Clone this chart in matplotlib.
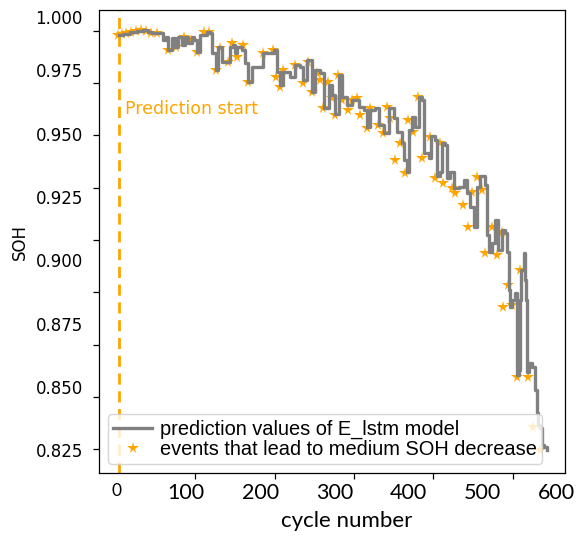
import matplotlib
matplotlib.use("Agg")
import matplotlib.pyplot as plt
from matplotlib.ticker import FixedLocator, FixedFormatter, NullFormatter
import numpy as np

# ---------------- data ----------------
cycle = [8.5, 14.5, 23.9, 33.4, 41.5, 48.3, 53.7, 64.5, 68.6, 72.6, 75.3, 80.3, 84.8, 88.9,
         93.9, 98.4, 102.4, 107.4, 110.5, 114.6, 118.6, 127.7, 132.1, 134.4, 140.3, 143.0,
         148.0, 154.7, 159.2, 162.9, 166.0, 168.3, 175.0, 179.5, 184.0, 188.6, 199.8, 204.2,
         217.8, 222.4, 226.8, 231.3, 240.4, 247.1, 253.9, 258.3, 262.9, 267.4, 269.7, 274.1,
         280.9, 285.4, 292.2, 296.8, 301.2, 305.7, 310.3, 317.0, 323.8, 328.3, 332.7, 339.5,
         344.1, 348.5, 355.3, 359.8, 366.6, 373.3, 380.1, 384.7, 391.4, 393.6, 398.2, 400.4,
         405.0, 409.5, 413.9, 418.5, 420.7, 427.4, 431.1, 436.5, 439.2, 443.2, 445.5, 450.0,
         452.3, 456.8, 461.2, 468.0, 474.8, 479.4, 483.8, 488.3, 492.9, 497.4, 504.1, 506.4,
         509.5, 513.6, 517.7, 521.7, 526.7, 531.2, 533.9, 535.9, 538.0, 540.6, 544.7, 546.7,
         549.2, 550.8, 552.1, 555.9, 558.2, 559.6, 560.9, 563.6, 567.3, 571.7, 574.0, 575.8,
         578.5, 580.0, 583.9, 587.6]
soh = [0.98902, 0.98961, 0.99021, 0.99060, 0.99100, 0.99021, 0.98969, 0.98969, 0.98705,
       0.98823, 0.98310, 0.98772, 0.98440, 0.98835, 0.98507, 0.98835, 0.98574, 0.98835,
       0.98705, 0.98243, 0.98902, 0.99032, 0.98969, 0.98179, 0.97520, 0.98440, 0.97848,
       0.97848, 0.98440, 0.98507, 0.98179, 0.98440, 0.98310, 0.97784, 0.97058, 0.97650,
       0.97650, 0.98179, 0.98310, 0.97453, 0.96927, 0.97453, 0.97255, 0.97717, 0.97650,
       0.97125, 0.97915, 0.97915, 0.96663, 0.97520, 0.97389, 0.96019, 0.96927, 0.96532,
       0.95782, 0.97322, 0.96453, 0.96137, 0.96335, 0.96335, 0.96058, 0.95940, 0.95269,
       0.95940, 0.96019, 0.95348, 0.95032, 0.96019, 0.95624, 0.95071, 0.94637, 0.93965,
       0.93491, 0.95150, 0.95664, 0.95269, 0.96453, 0.96335, 0.94242, 0.94044, 0.94913,
       0.94755, 0.93333, 0.93491, 0.94637, 0.94558, 0.93254, 0.93491, 0.92859, 0.92899,
       0.93175, 0.92662, 0.92109, 0.91319, 0.92899, 0.93333, 0.92978, 0.91003, 0.90332,
       0.90687, 0.91596, 0.90411, 0.91201, 0.91082, 0.90332, 0.88831, 0.88160, 0.88436,
       0.88713, 0.85474, 0.85672, 0.88436, 0.89621, 0.90292, 0.89226, 0.88436, 0.85593,
       0.85948, 0.85790, 0.84882, 0.83973, 0.83499, 0.83381, 0.82700, 0.82630, 0.82512]

event_cycle = [7.7, 13.1, 18.5, 25.3, 32.1, 38.8, 45.6, 52.3, 60.5, 75.3, 86.2, 97.0, 106.5,
               114.6, 124.0, 130.8, 140.3, 145.7, 156.5, 161.9, 168.7, 176.8, 183.5, 203.8,
               217.4, 221.4, 226.8, 230.9, 247.1, 257.9, 264.7, 270.1, 276.9, 280.9, 285.0,
               291.8, 297.2, 301.2, 305.3, 310.7, 318.8, 324.2, 331.0, 335.1, 344.5, 348.5,
               359.4, 366.1, 371.5, 375.6, 382.4, 389.1, 395.9, 399.9, 406.7, 413.5, 418.9,
               429.8, 436.5, 443.3, 447.3, 459.5, 463.5, 474.4, 481.1, 486.5, 493.3, 500.1,
               504.1, 513.6, 520.4, 527.1, 528.5, 535.3, 540.6, 551.5, 547.4, 562.3, 569.1,
               578.5]
event_soh = [0.98902, 0.98942, 0.98981, 0.99021, 0.99060, 0.99100, 0.99060, 0.98981, 0.98981,
             0.98310, 0.98428, 0.98823, 0.98705, 0.98231, 0.99021, 0.99021, 0.97520, 0.98389,
             0.97836, 0.98586, 0.98033, 0.98507, 0.97046, 0.98191, 0.98310, 0.97243, 0.96848,
             0.97520, 0.97717, 0.97006, 0.97836, 0.96651, 0.97401, 0.97125, 0.96019, 0.97046,
             0.96414, 0.95743, 0.97322, 0.96335, 0.95940, 0.96335, 0.96414, 0.95743, 0.95229,
             0.96019, 0.95348, 0.95032, 0.96058, 0.95624, 0.93965, 0.94637, 0.93452, 0.95545,
             0.95071, 0.96453, 0.94044, 0.94874, 0.93254, 0.94637, 0.93057, 0.92859, 0.92662,
             0.92188, 0.91319, 0.92701, 0.93294, 0.92780, 0.90292, 0.91319, 0.90213, 0.91122,
             0.88160, 0.89029, 0.88239, 0.89621, 0.85395, 0.85395, 0.83420, 0.82512]

prediction_start = 9.5
xtick_labels = ['0', '100', '200', '300', '400', '500', '600']
xtick_values = [0, 100, 200, 300, 400, 500, 600]
ytick_labels = ['1.000', '0.975', '0.950', '0.925', '0.900', '0.875', '0.850', '0.825']
ytick_values = [1.000, 0.975, 0.950, 0.925, 0.900, 0.875, 0.850, 0.825]

# ---------------- figure ----------------
plt.rcParams['font.family'] = ['DejaVu Sans']
fig = plt.figure(figsize=(5.79, 5.37), dpi=100)
ax = fig.add_axes([0.1710, 0.1186, 0.8048, 0.8622])

ax.axvline(prediction_start, color='orange', ls=(0, (4.0, 2.4)), lw=2, zorder=1)
stars, = ax.plot(event_cycle, event_soh, ls='none', marker='*', ms=8.5, color='orange',
                 markeredgewidth=0, zorder=2,
                 label='events that lead to medium SOH decrease')
line, = ax.plot(cycle, soh, color='gray', lw=2.4, zorder=3, drawstyle='steps-post',
                label='prediction values of E_lstm model')

ax.text(prediction_start + 7, 0.9596, 'Prediction start', color='orange', fontsize=12.5,
        va='center', ha='left')

ax.set_xlim(-18.0, 611.7)
ax.set_ylim(0.81592, 0.99877)

# tick labels (positions as they appear in the reference)
ylab_pos = [0.99609] + ytick_values[1:]
ax.yaxis.set_major_locator(FixedLocator(ylab_pos))
ax.yaxis.set_major_formatter(FixedFormatter(ytick_labels))
ax.yaxis.set_minor_locator(FixedLocator(0.99068 - 0.02066 * np.arange(9)))
ax.yaxis.set_minor_formatter(NullFormatter())
ax.tick_params(axis='y', which='major', length=0, pad=11.7, labelsize=12)
ax.tick_params(axis='y', which='minor', length=4.5, width=0.9)

xlab_pos = [5.0] + xtick_values[1:]
ax.xaxis.set_major_locator(FixedLocator(xlab_pos))
ax.xaxis.set_major_formatter(FixedFormatter(xtick_labels))
ax.xaxis.set_minor_locator(FixedLocator(5.0 + 107.2 * np.arange(6)))
ax.xaxis.set_minor_formatter(NullFormatter())
ax.tick_params(axis='x', which='major', length=0, pad=7, labelsize=15.5)
ax.tick_params(axis='x', which='minor', length=4.5, width=0.9)
for i, t in enumerate(ax.get_xticklabels()):
    t.set_family('Lato')
    if i == 0:
        t.set_fontsize(12.5)

ax.set_xlabel('cycle number', family='Lato', fontsize=16)
ax.xaxis.set_label_coords(0.5315, -0.082)
ax.set_ylabel('SOH', fontsize=12)
ax.yaxis.set_label_coords(-0.15, 0.5)

for s in ax.spines.values():
    s.set_linewidth(0.9)

ax.legend(handles=[line, stars], loc='lower left',
          prop={'family': 'Liberation Sans', 'size': 14.4},
          borderpad=0.27, labelspacing=0.05, handletextpad=0.36, handlelength=1.95,
          borderaxespad=0.45)

fig.savefig('out.png', dpi=100)
